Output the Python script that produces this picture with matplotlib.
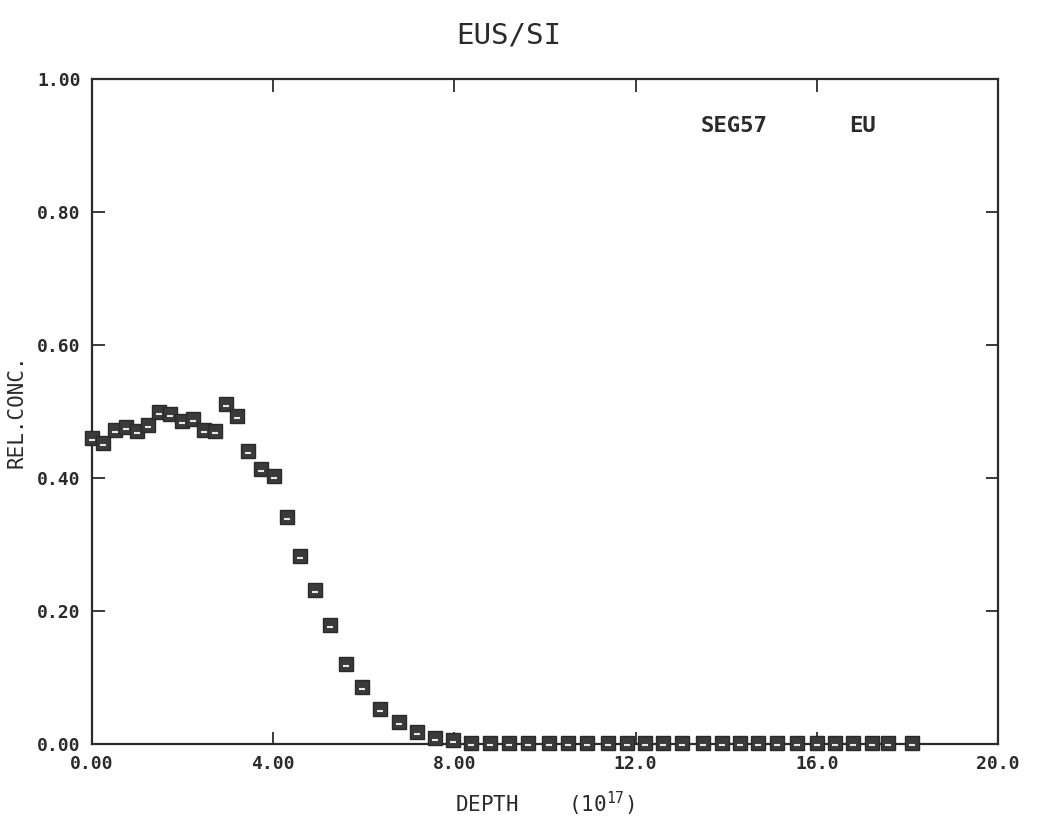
import numpy as np
import matplotlib
matplotlib.use("Agg")
import matplotlib.pyplot as plt
from matplotlib.transforms import offset_copy

# depth (1e17) and relative concentration
depth = [0.00, 0.24, 0.51, 0.75, 1.00, 1.24, 1.49, 1.72, 1.98, 2.22,
         2.47, 2.71, 2.96, 3.21, 3.45, 3.74, 4.02, 4.30, 4.59, 4.92,
         5.25, 5.61, 5.97, 6.36, 6.78, 7.17, 7.57, 7.97, 8.37, 8.79,
         9.21, 9.63, 10.08, 10.50, 10.93, 11.38, 11.81, 12.21, 12.60, 13.02,
         13.49, 13.91, 14.30, 14.70, 15.12, 15.56, 16.00, 16.40, 16.80, 17.22,
         17.57, 18.10]
conc = [0.460, 0.452, 0.472, 0.476, 0.471, 0.480, 0.499, 0.496, 0.485, 0.488,
        0.472, 0.471, 0.511, 0.493, 0.441, 0.413, 0.403, 0.341, 0.283, 0.232,
        0.179, 0.120, 0.085, 0.053, 0.033, 0.018, 0.009, 0.006, 0.001, 0.001,
        0.001, 0.001, 0.001, 0.001, 0.001, 0.001, 0.001, 0.001, 0.001, 0.001,
        0.001, 0.001, 0.001, 0.001, 0.001, 0.001, 0.001, 0.001, 0.001, 0.001,
        0.001, 0.001]

xticks = [0, 4, 8, 12, 16, 20]
xtick_labels = ["0.00", "4.00", "8.00", "12.0", "16.0", "20.0"]
yticks = [0.0, 0.2, 0.4, 0.6, 0.8, 1.0]
ytick_labels = ["0.00", "0.20", "0.40", "0.60", "0.80", "1.00"]

plt.rcParams['font.family'] = ['DejaVu Sans Mono']
plt.rcParams['mathtext.fontset'] = 'custom'
plt.rcParams['mathtext.rm'] = 'DejaVu Sans Mono'
plt.rcParams['mathtext.it'] = 'DejaVu Sans Mono'
ink = "#2b2b2b"

fig = plt.figure(figsize=(10.38, 8.21), dpi=100)
ax = fig.add_axes([0.0886, 0.0938, 0.8729, 0.81])

ax.plot(depth, conc, linestyle="none", marker="s", markersize=9.5,
        markerfacecolor="#3a3a3a", markeredgecolor="#2a2a2a",
        markeredgewidth=1.0, clip_on=False, zorder=5)
# small light notch inside each square, like the plotter symbol
notch = offset_copy(ax.transData, fig=fig, x=0, y=-2, units="dots")
ax.plot(depth, conc, linestyle="none", marker="_", markersize=4,
        markeredgecolor="#e8e8e8", markeredgewidth=1.5, transform=notch,
        clip_on=False, zorder=6)

ax.set_xlim(0, 20)
ax.set_ylim(0, 1)
ax.set_xticks(xticks)
ax.set_xticklabels(xtick_labels)
ax.set_yticks(yticks)
ax.set_yticklabels(ytick_labels)
ax.tick_params(direction="in", length=9, width=1.3, color=ink,
               top=True, right=True, labelsize=13, labelcolor=ink, pad=8)
for lab in ax.get_xticklabels() + ax.get_yticklabels():
    lab.set_fontweight("bold")
for s in ax.spines.values():
    s.set_color(ink)
    s.set_linewidth(1.6)

ax.set_xlabel(r"DEPTH    (10$^{\mathrm{17}}$)", fontsize=15, color=ink,
              labelpad=12)
ax.set_ylabel("REL.CONC.", fontsize=15, color=ink, labelpad=8)
fig.text(0.49, 0.957, "EUS/SI", ha="center", va="center",
         fontsize=21, color=ink)
ax.text(0.672, 0.93, "SEG57", transform=ax.transAxes, fontsize=16,
        fontweight="bold", color=ink, va="center")
ax.text(0.836, 0.93, "EU", transform=ax.transAxes, fontsize=16,
        fontweight="bold", color=ink, va="center")

fig.savefig("out.png", dpi=100)
